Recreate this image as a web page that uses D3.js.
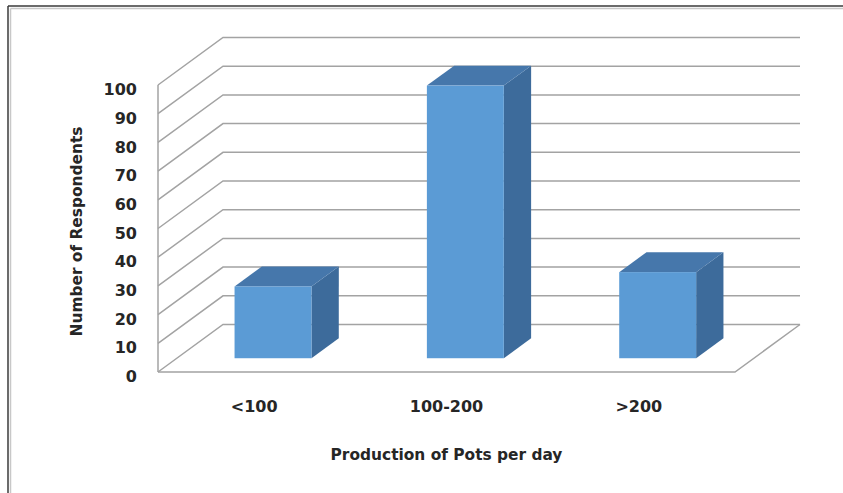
<!DOCTYPE html>
<html>
<head>
<meta charset="utf-8">
<script src="https://cdn.jsdelivr.net/npm/d3@7"></script>
<style>
  html, body { margin: 0; padding: 0; background: #ffffff; }
  svg { display: block; }
  text { font-family: "DejaVu Sans", sans-serif; font-weight: bold; fill: #262626; }
</style>
</head>
<body>
<svg id="chart" width="843" height="493"></svg>
<script>
// ---- data ----
const categories = ["<100", "100-200", ">200"];
const respondents = [25, 95, 30];
const yTicks = [0, 10, 20, 30, 40, 50, 60, 70, 80, 90, 100];
const xTitle = "Production of Pots per day";
const yTitle = "Number of Respondents";

// ---- layout ----
const W = 843, H = 493;
const floorLeft = 158, floorRight = 735;
const yBottom = 372, yTop = 85;
const depthDx = 65, depthDy = 47.5;
const barDepth0 = 0.29, barDepth1 = 0.71;

const svg = d3.select("#chart");

// frame
svg.append("line").attr("x1", 8).attr("y1", 6).attr("x2", W).attr("y2", 6)
  .attr("stroke", "#3a3a3a").attr("stroke-width", 1.5);
svg.append("line").attr("x1", 8).attr("y1", 6).attr("x2", 8).attr("y2", H)
  .attr("stroke", "#3a3a3a").attr("stroke-width", 1.5);
svg.append("line").attr("x1", 10.5).attr("y1", 8.5).attr("x2", W).attr("y2", 8.5)
  .attr("stroke", "#c8c8c8").attr("stroke-width", 1.5);
svg.append("line").attr("x1", 10.5).attr("y1", 8.5).attr("x2", 10.5).attr("y2", H)
  .attr("stroke", "#c8c8c8").attr("stroke-width", 1.5);

const x = d3.scaleBand().domain(categories).range([floorLeft, floorRight])
  .paddingInner(0.6).paddingOuter(0.3);
const y = d3.scaleLinear().domain([0, 100]).range([yBottom, yTop]);

// projection: (px on front plane, value, depth fraction) -> screen
function P(px, v, d) { return [px + d * depthDx, y(v) - d * depthDy]; }

const gridColor = "#a3a3a3";
const grid = svg.append("g").attr("stroke", gridColor).attr("stroke-width", 1.5).attr("fill", "none");

// side wall front vertical edge
grid.append("line")
  .attr("x1", floorLeft).attr("y1", y(0)).attr("x2", floorLeft).attr("y2", y(100));

// side wall + back wall gridlines
yTicks.forEach(t => {
  const a = P(floorLeft, t, 0), b = P(floorLeft, t, 1), c = P(floorRight, t, 1);
  grid.append("path").attr("d", d3.line()([a, b, c]));
});

// floor front and right edges
grid.append("path").attr("d", d3.line()([P(floorLeft, 0, 0), P(floorRight, 0, 0), P(floorRight, 0, 1)]));

// bars
const cFront = "#5b9bd5", cTop = "#4677ab", cSide = "#3d6b9b";
const bars = svg.append("g");
categories.forEach((cat, i) => {
  const v = respondents[i];
  const x0 = x(cat), x1 = x(cat) + x.bandwidth();
  const g = bars.append("g");
  // side face
  g.append("path").attr("fill", cSide)
    .attr("d", d3.line()([P(x1, v, barDepth0), P(x1, v, barDepth1), P(x1, 0, barDepth1), P(x1, 0, barDepth0)]) + "Z");
  // top face
  g.append("path").attr("fill", cTop)
    .attr("d", d3.line()([P(x0, v, barDepth0), P(x0, v, barDepth1), P(x1, v, barDepth1), P(x1, v, barDepth0)]) + "Z");
  // front face
  const f0 = P(x0, v, barDepth0), f1 = P(x1, 0, barDepth0);
  g.append("rect").attr("fill", cFront)
    .attr("x", f0[0]).attr("y", f0[1]).attr("width", f1[0] - f0[0]).attr("height", f1[1] - f0[1]);
});

// y axis labels
const yAxis = d3.axisLeft(y).tickValues(yTicks).tickSize(0).tickPadding(0);
const gy = svg.append("g").attr("transform", "translate(137,4.5)").call(yAxis);
gy.select(".domain").remove();
gy.selectAll("text").style("font-family", "DejaVu Sans, sans-serif")
  .style("font-weight", "bold").style("font-size", "16px").attr("fill", "#262626");

// x axis labels
const xAxis = d3.axisBottom(x).tickSize(0).tickPadding(0);
const gx = svg.append("g").attr("transform", "translate(0,401)").call(xAxis);
gx.select(".domain").remove();
gx.selectAll("text").style("font-family", "DejaVu Sans, sans-serif")
  .style("font-weight", "bold").style("font-size", "16px").attr("fill", "#262626");

// axis titles
svg.append("text").attr("x", (floorLeft + floorRight) / 2).attr("y", 460)
  .attr("text-anchor", "middle").style("font-size", "15.4px").text(xTitle);
svg.append("text").attr("transform", "translate(81.5,231.5) rotate(-90)")
  .attr("text-anchor", "middle").style("font-size", "15.4px").text(yTitle);
</script>
</body>
</html>
